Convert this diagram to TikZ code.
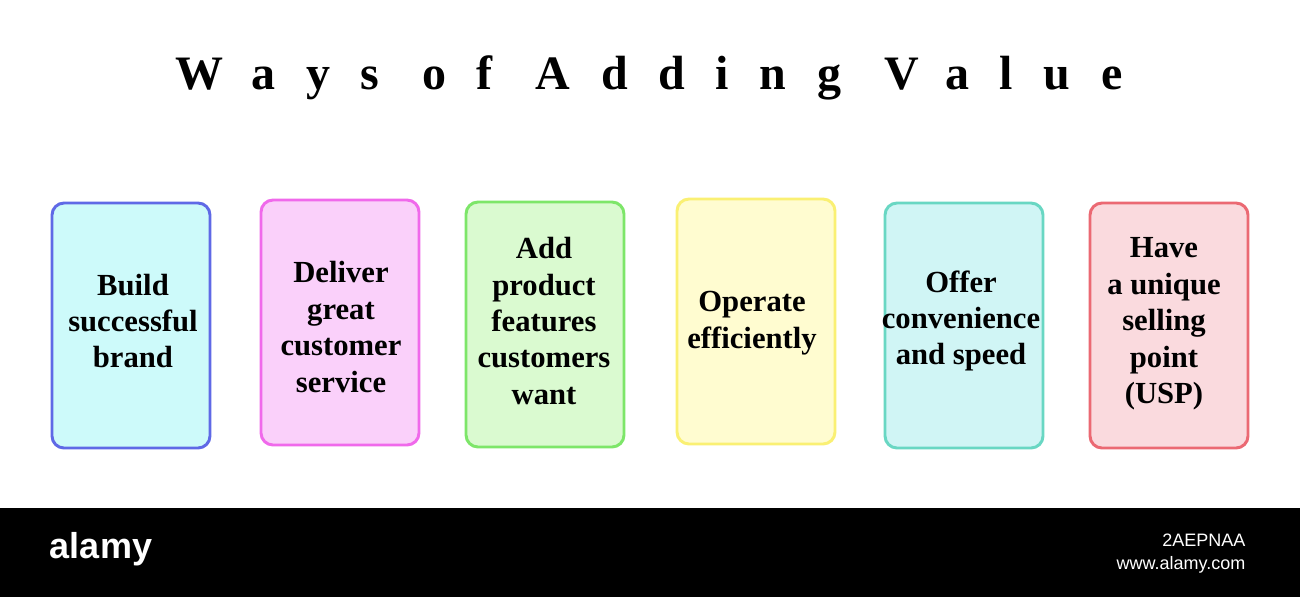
\documentclass[tikz,border=0pt]{standalone}
\usepackage{fontspec}
\setmainfont{Liberation Serif}
\newfontfamily\alsans{Liberation Sans}
\begin{document}
\begin{tikzpicture}[x=0.75pt,y=-0.75pt]
\useasboundingbox (0,0) rectangle (1300,597);
\fill[white] (0,0) rectangle (1300,597);
\tikzset{card/.style={draw,line width=2.2pt,rounded corners=9pt},
 lbl/.style={align=center,font=\fontsize{23}{27.3}\selectfont\bfseries}}
\node (title) at (649,78) {\fontsize{36}{40}\selectfont\bfseries\addfontfeature{LetterSpace=64}Ways of Adding Value};
\definecolor{b1}{RGB}{95,105,230}\definecolor{f1}{RGB}{205,250,250}
\definecolor{b2}{RGB}{240,105,235}\definecolor{f2}{RGB}{250,208,250}
\definecolor{b3}{RGB}{125,230,105}\definecolor{f3}{RGB}{218,250,208}
\definecolor{b4}{RGB}{250,240,115}\definecolor{f4}{RGB}{255,252,208}
\definecolor{b5}{RGB}{105,215,195}\definecolor{f5}{RGB}{208,245,245}
\definecolor{b6}{RGB}{235,105,115}\definecolor{f6}{RGB}{250,218,222}
\foreach \i/\xa/\ya in {1/52/203,2/261/200,3/466/202,4/677/199,5/885/203,6/1090/203}{
 \draw[card,draw=b\i,fill=f\i] (\xa,\ya) rectangle ++(158,245);}
\node[lbl] (t1) at (133,321) {Build\\successful\\brand};
\node[lbl] (t2) at (341,327) {Deliver\\great\\customer\\service};
\node[lbl] (t3) at (544,321) {Add\\product\\features\\customers\\want};
\node[lbl] (t4) at (752,323) {Operate\\efficiently};
\node[lbl] (t5) at (961,321) {Offer\\convenience\\and speed};
\node[lbl] (t6) at (1164,324) {Have\\a unique\\selling\\point\\(USP)};
\fill[black] (0,508) rectangle (1300,597);
\node[white,font=\alsans\fontsize{27}{30}\selectfont\bfseries] (al) at (101,549) {alamy};
\node[white,font=\alsans\fontsize{13.5}{15}\selectfont,anchor=east] (id) at (1250,540) {2AEPNAA};
\node[white,font=\alsans\fontsize{13.5}{15}\selectfont,anchor=east] (www) at (1250,565) {www.alamy.com};
\end{tikzpicture}
\end{document}
